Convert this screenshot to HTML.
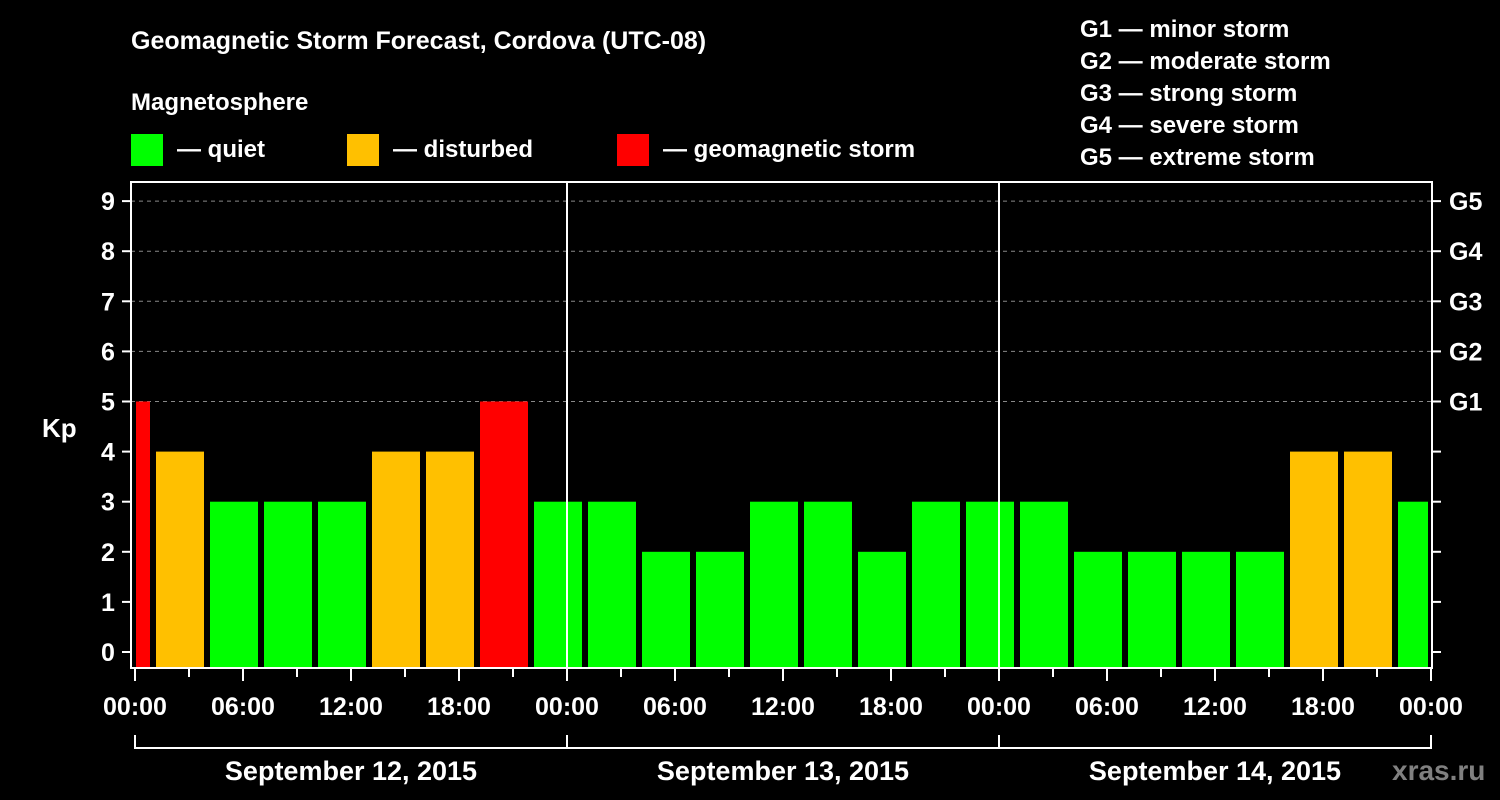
<!DOCTYPE html>
<html><head><meta charset="utf-8"><style>
body{margin:0;background:#000;}
svg{display:block;font-family:"Liberation Sans",sans-serif;font-weight:bold;}
</style></head><body>
<svg width="1500" height="800" viewBox="0 0 1500 800">
<rect width="1500" height="800" fill="#000"/>
<text x="131" y="49" fill="#fff" font-size="25">Geomagnetic Storm Forecast, Cordova (UTC-08)</text>
<text x="131" y="110" fill="#fff" font-size="24">Magnetosphere</text>
<g><rect x="131" y="134" width="32" height="32" fill="#00ff00"/><text x="177" y="157" fill="#fff" font-size="24">— quiet</text></g>
<g><rect x="347" y="134" width="32" height="32" fill="#ffc000"/><text x="393" y="157" fill="#fff" font-size="24">— disturbed</text></g>
<g><rect x="617" y="134" width="32" height="32" fill="#ff0000"/><text x="663" y="157" fill="#fff" font-size="24">— geomagnetic storm</text></g>
<g fill="#fff" font-size="24">
<text x="1080" y="37">G1 — minor storm</text>
<text x="1080" y="69">G2 — moderate storm</text>
<text x="1080" y="101">G3 — strong storm</text>
<text x="1080" y="133">G4 — severe storm</text>
<text x="1080" y="165">G5 — extreme storm</text>
</g>
<text x="42" y="437" fill="#fff" font-size="26">Kp</text>
<g id="grid"></g>
<g id="bars"></g>
<g id="axes"></g>
<text x="1392" y="780" fill="#808080" font-size="28">xras.ru</text>
</svg>
<script>
const kpValues=[5,4,3,3,3,4,4,5,3,3,2,2,3,3,2,3,3,3,2,2,2,2,4,4,3];
const startHours=[-2,1,4,7,10,13,16,19,22,25,28,31,34,37,40,43,46,49,52,55,58,61,64,67,70];
const yTicks=[0,1,2,3,4,5,6,7,8,9];
const gLabels=["G1","G2","G3","G4","G5"];
const xTickLabels=["00:00","06:00","12:00","18:00","00:00","06:00","12:00","18:00","00:00","06:00","12:00","18:00","00:00"];
const dayLabels=["September 12, 2015","September 13, 2015","September 14, 2015"];
const NS="http://www.w3.org/2000/svg";
const X0=135,PXH=18,L=131,R=1432,T=182,B=668;
const xs=h=>X0+h*PXH;
const ys=k=>652-k*50.1;
function mk(tag,attrs,parent,text){const e=document.createElementNS(NS,tag);for(const k in attrs)e.setAttribute(k,attrs[k]);if(text!==undefined)e.textContent=text;parent.appendChild(e);return e;}
const grid=document.getElementById('grid'),bars=document.getElementById('bars'),axes=document.getElementById('axes');
yTicks.forEach(k=>{if(k>=5){const l=mk('line',{x1:L,x2:R,y1:ys(k),y2:ys(k),stroke:'#888','stroke-width':1,'stroke-dasharray':'4,4'},grid);

}});
kpValues.forEach((v,i)=>{let a=Math.max(xs(startHours[i])+3,X0+1),b=Math.min(xs(startHours[i]+3)-3,1428);
const c=v>=5?'#ff0000':(v==4?'#ffc000':'#00ff00');
const r=mk('rect',{x:a,y:ys(v),width:b-a,height:B-ys(v),fill:c},bars);

});
[24,48].forEach(h=>{const l=mk('line',{x1:xs(h),x2:xs(h),y1:T,y2:B,stroke:'#fff','stroke-width':2},axes);

});
const f=mk('rect',{x:L,y:T,width:R-L,height:B-T,fill:'none',stroke:'#fff','stroke-width':2},axes);


yTicks.forEach(k=>{mk('line',{x1:122,x2:L,y1:ys(k),y2:ys(k),stroke:'#fff','stroke-width':2},axes);
mk('line',{x1:R,x2:1441,y1:ys(k),y2:ys(k),stroke:'#fff','stroke-width':2},axes);
const t=mk('text',{x:108,y:ys(k)+9,fill:'#fff','font-size':25,'text-anchor':'middle'},axes,String(k));

});
gLabels.forEach((g,i)=>{const t=mk('text',{x:1449,y:ys(5+i)+9,fill:'#fff','font-size':25},axes,g);

});
for(let h=0;h<=72;h+=3){mk('line',{x1:xs(h),x2:xs(h),y1:B,y2:h%6==0?681:677,stroke:'#fff','stroke-width':2},axes);}
xTickLabels.forEach((s,i)=>{const t=mk('text',{x:xs(i*6),y:715,fill:'#fff','font-size':25,'text-anchor':'middle'},axes,s);

});
dayLabels.forEach((s,i)=>{const a=xs(i*24),b=xs(i*24+24);
mk('path',{d:`M${a} 735V748H${b}V735`,stroke:'#fff','stroke-width':2,fill:'none'},axes);
const t=mk('text',{x:(a+b)/2,y:780,fill:'#fff','font-size':27,'text-anchor':'middle'},axes,s);

});
</script>
</body></html>
